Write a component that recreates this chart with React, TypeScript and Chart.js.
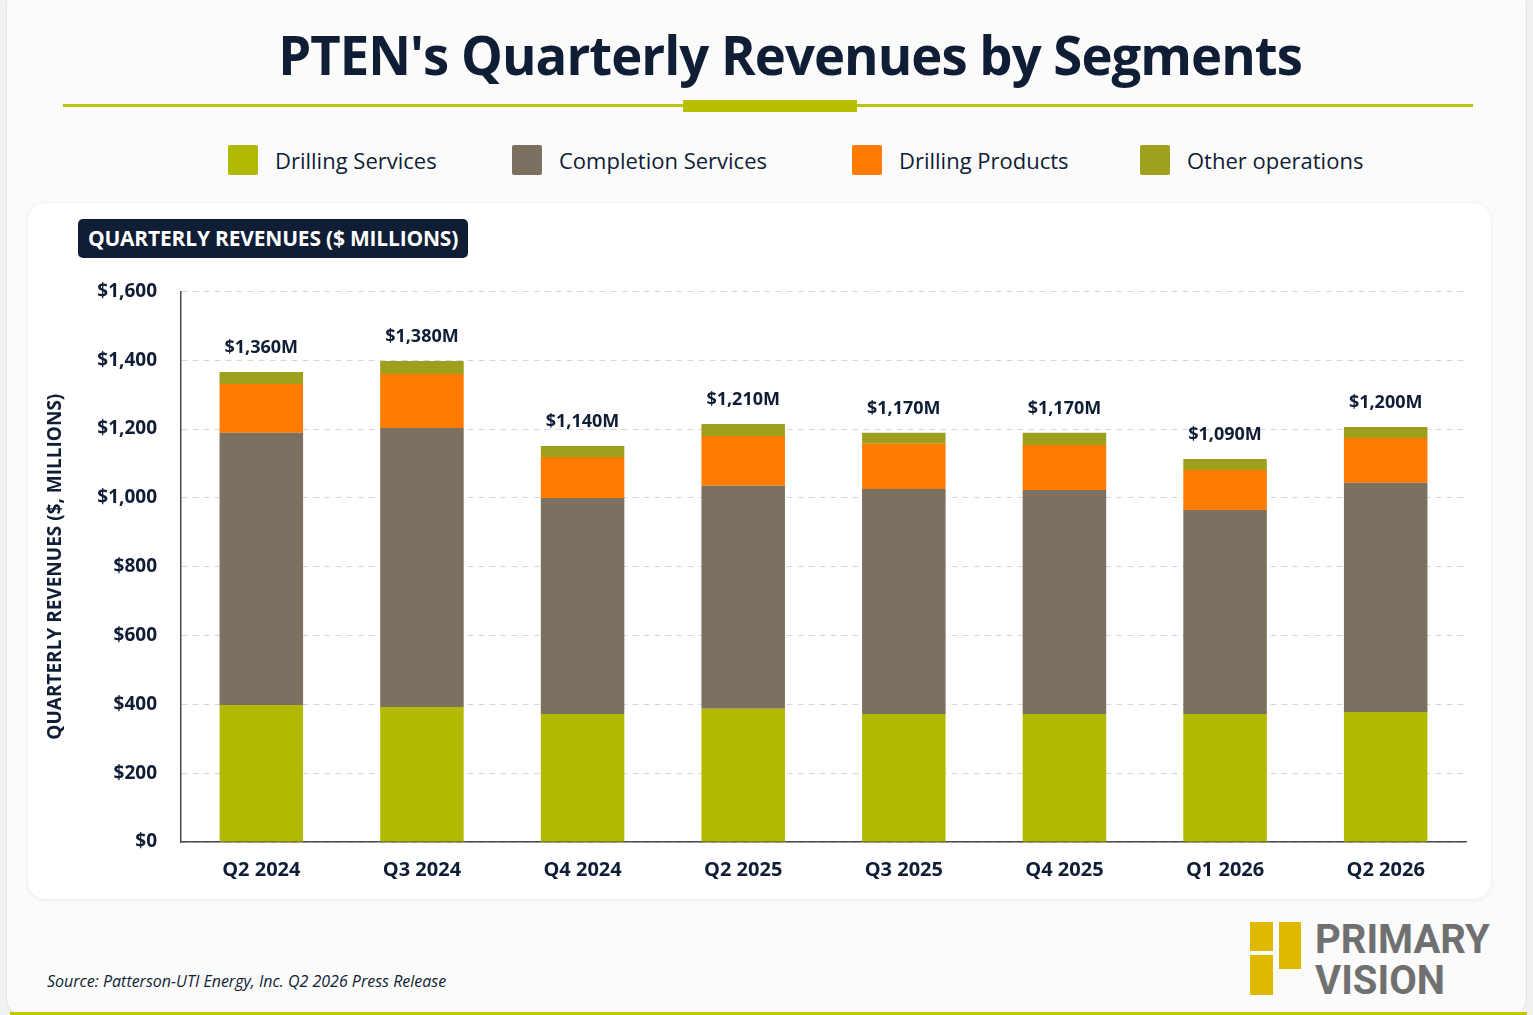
import { useEffect, useRef } from 'react';
import { Chart, registerables, ChartConfiguration, Plugin } from 'chart.js';

Chart.register(...registerables);

// quarters on the x axis
const quarters = ['Q2 2024', 'Q3 2024', 'Q4 2024', 'Q2 2025', 'Q3 2025', 'Q4 2025', 'Q1 2026', 'Q2 2026'];

// segment revenues, $ millions
const drillingServices = [398, 392, 372, 387, 372, 372, 372, 378];
const completionServices = [791, 811, 628, 648, 654, 651, 593, 666];
const drillingProducts = [142, 157, 119, 145, 131, 131, 116, 130];
const otherOperations = [35, 38, 32, 35, 32, 35, 32, 32];

// totals printed above each bar
const totalLabels = ['$1,360M', '$1,380M', '$1,140M', '$1,210M', '$1,170M', '$1,170M', '$1,090M', '$1,200M'];

const segmentNames = ['Drilling Services', 'Completion Services', 'Drilling Products', 'Other operations'];
const segmentColors = ['#b1ba00', '#7c7161', '#ff7b02', '#9e9f1c'];

const navy = '#0f1d35';
const font = '"Open Sans", "Noto Sans", sans-serif';

// draws the total above the top segment of each bar
const totalsPlugin: Plugin<'bar'> = {
    id: 'totals',
    afterDatasetsDraw(chart) {
        const ctx = chart.ctx;
        const meta = chart.getDatasetMeta(chart.data.datasets.length - 1);
        ctx.save();
        ctx.font = `700 18px ${font}`;
        ctx.fillStyle = navy;
        ctx.textAlign = 'center';
        ctx.textBaseline = 'middle';
        meta.data.forEach((bar, i) => {
            ctx.fillText(totalLabels[i], bar.x, bar.y - 24);
        });
        ctx.restore();
    },
};

const RevenueChart = () => {
    const canvasRef = useRef<HTMLCanvasElement | null>(null);
    const chartInstance = useRef<Chart<'bar'> | null>(null);

    useEffect(() => {
        if (!canvasRef.current) return;
        if (chartInstance.current) chartInstance.current.destroy();

        const series = [drillingServices, completionServices, drillingProducts, otherOperations];

        const config: ChartConfiguration<'bar'> = {
            type: 'bar',
            data: {
                labels: quarters,
                datasets: series.map((values, i) => ({
                    label: segmentNames[i],
                    data: values,
                    backgroundColor: segmentColors[i],
                    borderWidth: 0,
                    barPercentage: 0.52,
                    categoryPercentage: 1,
                })),
            },
            options: {
                responsive: true,
                maintainAspectRatio: false,
                animation: false,
                layout: { padding: { top: 6, right: 14, left: 0, bottom: 0 } },
                plugins: {
                    legend: { display: false },
                    tooltip: { enabled: false },
                },
                scales: {
                    x: {
                        stacked: true,
                        grid: { display: false },
                        border: { display: true, color: '#4a4a4a', width: 1.5 },
                        ticks: {
                            padding: 8,
                            color: navy,
                            font: { family: font, size: 20, weight: 'bold' },
                        },
                        afterFit: (scale) => {
                            scale.height = 53;
                        },
                    },
                    y: {
                        stacked: true,
                        min: 0,
                        max: 1600,
                        grid: { color: '#d8d8d8', lineWidth: 1, drawTicks: false },
                        border: { display: true, color: '#4a4a4a', width: 1.5, dash: [6, 5] },
                        ticks: {
                            stepSize: 200,
                            padding: 24,
                            color: navy,
                            font: { family: font, size: 19, weight: 'bold' },
                            callback: (v) => '$' + Number(v).toLocaleString('en-US'),
                        },
                        title: {
                            display: true,
                            text: 'QUARTERLY REVENUES ($, MILLIONS)',
                            color: navy,
                            padding: { top: 4, bottom: 0 },
                            font: { family: font, size: 19, weight: 'bold' },
                        },
                        afterFit: (scale) => {
                            scale.width = 141;
                        },
                    },
                },
            },
            plugins: [totalsPlugin],
        };

        chartInstance.current = new Chart(canvasRef.current, config);

        return () => {
            if (chartInstance.current) {
                chartInstance.current.destroy();
                chartInstance.current = null;
            }
        };
    }, []);

    return <canvas ref={canvasRef} />;
};

const legendX = [228, 512, 852, 1140];

export default function App() {
    return (
        <div
            style={{
                position: 'absolute',
                left: 0,
                top: 0,
                width: 1533,
                height: 1015,
                background: '#f1f1f1',
                overflow: 'hidden',
                fontFamily: font,
            }}
        >
            {/* outer card */}
            <div
                style={{
                    position: 'absolute',
                    left: 6,
                    top: -12,
                    width: 1521,
                    height: 1027,
                    background: '#fbfbfb',
                    border: '1px solid #e4e4e4',
                    borderRadius: 16,
                    boxSizing: 'border-box',
                }}
            />
            <div style={{ position: 'absolute', left: 10, top: 1012, width: 1517, height: 3, background: '#c2c800' }} />

            {/* title */}
            <div
                style={{
                    position: 'absolute',
                    left: 790,
                    top: 19,
                    transform: 'translateX(-50%) scaleX(0.975)',
                    whiteSpace: 'nowrap',
                    fontSize: 54,
                    fontWeight: 700,
                    letterSpacing: -1,
                    lineHeight: '70px',
                    color: navy,
                }}
            >
                PTEN's Quarterly Revenues by Segments
            </div>
            <div style={{ position: 'absolute', left: 63, top: 104, width: 1410, height: 3, background: '#bcc400' }} />
            <div style={{ position: 'absolute', left: 683, top: 100, width: 174, height: 12, background: '#b8bf00' }} />

            {/* legend */}
            {segmentNames.map((name, i) => (
                <div
                    key={name}
                    style={{ position: 'absolute', left: legendX[i], top: 144, height: 32, display: 'flex', alignItems: 'center' }}
                >
                    <div style={{ width: 30, height: 30, borderRadius: 2, background: segmentColors[i] }} />
                    <span style={{ marginLeft: 17, fontSize: 22, color: navy, whiteSpace: 'nowrap' }}>{name}</span>
                </div>
            ))}

            {/* chart card */}
            <div
                style={{
                    position: 'absolute',
                    left: 28,
                    top: 203,
                    width: 1463,
                    height: 696,
                    background: '#ffffff',
                    borderRadius: 18,
                    boxShadow: '0 1px 5px rgba(0,0,0,0.08)',
                }}
            />
            <div
                style={{
                    position: 'absolute',
                    left: 78,
                    top: 219,
                    width: 390,
                    height: 39,
                    background: navy,
                    borderRadius: 5,
                    color: '#fff',
                    fontSize: 21,
                    fontWeight: 700,
                    lineHeight: '39px',
                    textAlign: 'center',
                    whiteSpace: 'nowrap',
                    letterSpacing: -0.2,
                }}
            >
                QUARTERLY REVENUES ($ MILLIONS)
            </div>
            <div style={{ position: 'absolute', left: 40, top: 256, width: 1440, height: 639 }}>
                <RevenueChart />
            </div>

            {/* source */}
            <div
                style={{
                    position: 'absolute',
                    left: 47,
                    top: 970,
                    fontSize: 16,
                    fontStyle: 'italic',
                    color: navy,
                    whiteSpace: 'nowrap',
                }}
            >
                Source: Patterson-UTI Energy, Inc. Q2 2026 Press Release
            </div>

            {/* logo */}
            <div style={{ position: 'absolute', left: 1250, top: 922, width: 23, height: 29, background: '#dfb900' }} />
            <div style={{ position: 'absolute', left: 1250, top: 955, width: 23, height: 40, background: '#dfb900' }} />
            <div style={{ position: 'absolute', left: 1279, top: 922, width: 22, height: 47, background: '#dfb900' }} />
            <div
                style={{
                    position: 'absolute',
                    left: 1315,
                    top: 919,
                    fontFamily: 'Roboto, sans-serif',
                    fontSize: 40,
                    fontWeight: 700,
                    lineHeight: '41px',
                    color: '#707070',
                }}
            >
                PRIMARY
                <br />
                VISION
            </div>
        </div>
    );
}
